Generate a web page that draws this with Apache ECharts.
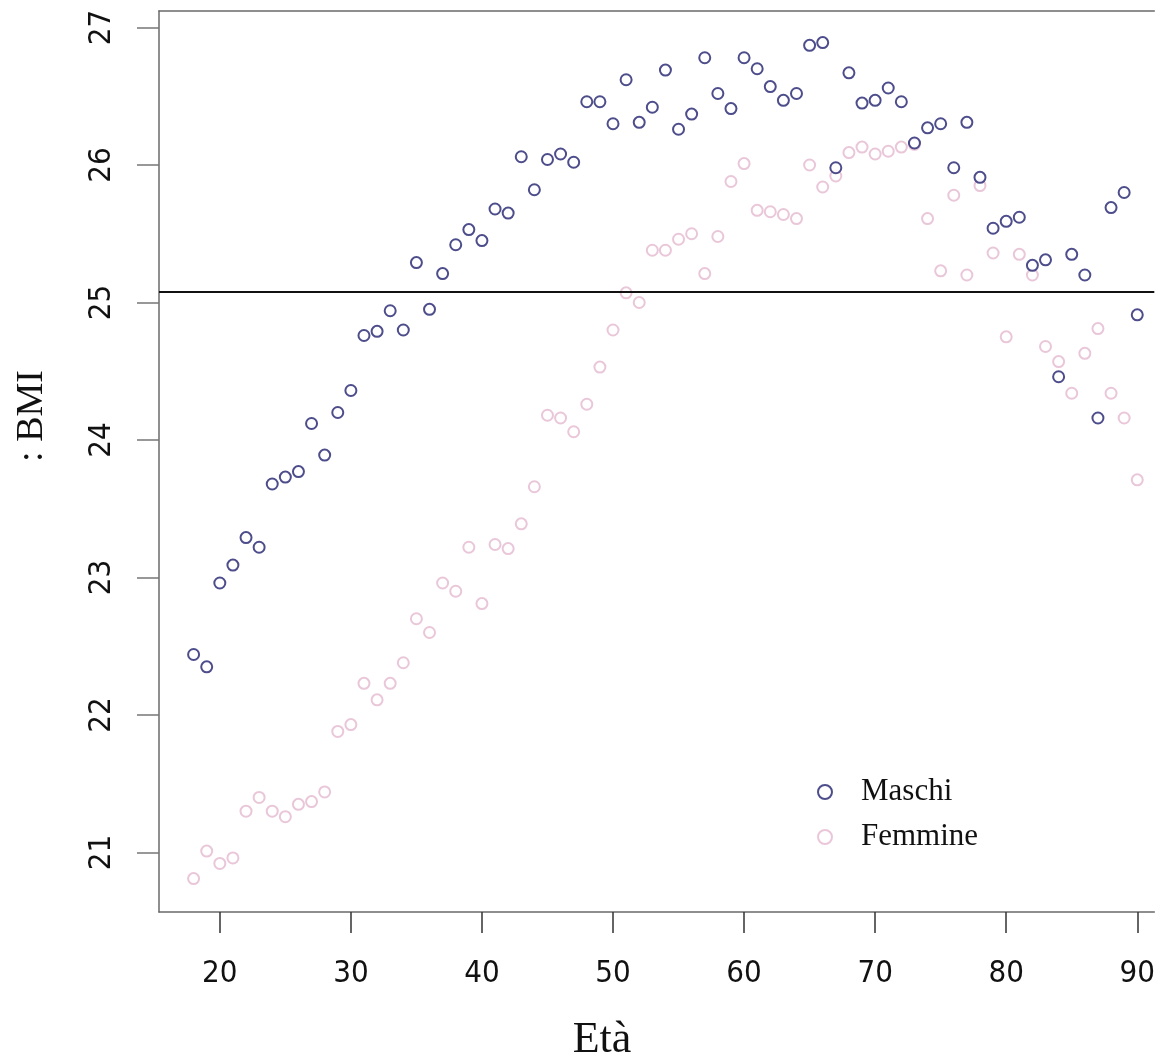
<!DOCTYPE html>
<html>
<head>
<meta charset="utf-8">
<script src="https://cdn.jsdelivr.net/npm/echarts@6/dist/echarts.min.js"></script>
<style>
  html, body { margin: 0; padding: 0; background: #fff; }
  #chart { width: 1158px; height: 1061px; }
</style>
</head>
<body>
<div id="chart"></div>
<script>
// eta (anni)
var eta = [18, 19, 20, 21, 22, 23, 24, 25, 26, 27,
  28, 29, 30, 31, 32, 33, 34, 35, 36, 37,
  38, 39, 40, 41, 42, 43, 44, 45, 46, 47,
  48, 49, 50, 51, 52, 53, 54, 55, 56, 57,
  58, 59, 60, 61, 62, 63, 64, 65, 66, 67,
  68, 69, 70, 71, 72, 73, 74, 75, 76, 77,
  78, 79, 80, 81, 82, 83, 84, 85, 86, 87,
  88, 89, 90]

// BMI medio per eta
var maschi = [22.44, 22.35, 22.96, 23.09, 23.29, 23.22, 23.68, 23.73, 23.77, 24.12,
  23.89, 24.20, 24.36, 24.76, 24.79, 24.94, 24.80, 25.29, 24.95, 25.21,
  25.42, 25.53, 25.45, 25.68, 25.65, 26.06, 25.82, 26.04, 26.08, 26.02,
  26.46, 26.46, 26.30, 26.62, 26.31, 26.42, 26.69, 26.26, 26.37, 26.78,
  26.52, 26.41, 26.78, 26.70, 26.57, 26.47, 26.52, 26.87, 26.89, 25.98,
  26.67, 26.45, 26.47, 26.56, 26.46, 26.16, 26.27, 26.30, 25.98, 26.31,
  25.91, 25.54, 25.59, 25.62, 25.27, 25.31, 24.46, 25.35, 25.20, 24.16,
  25.69, 25.80, 24.91]

var femmine = [20.81, 21.01, 20.92, 20.96, 21.30, 21.40, 21.30, 21.26, 21.35, 21.37,
  21.44, 21.88, 21.93, 22.23, 22.11, 22.23, 22.38, 22.70, 22.60, 22.96,
  22.90, 23.22, 22.81, 23.24, 23.21, 23.39, 23.66, 24.18, 24.16, 24.06,
  24.26, 24.53, 24.80, 25.07, 25.00, 25.38, 25.38, 25.46, 25.50, 25.21,
  25.48, 25.88, 26.01, 25.67, 25.66, 25.64, 25.61, 26.00, 25.84, 25.92,
  26.09, 26.13, 26.08, 26.10, 26.13, 26.15, 25.61, 25.23, 25.78, 25.20,
  25.85, 25.36, 24.75, 25.35, 25.20, 24.68, 24.57, 24.34, 24.63, 24.81,
  24.34, 24.16, 23.71]

var tickX = [20, 30, 40, 50, 60, 70, 80, 90]
var tickY = [21, 22, 23, 24, 25, 26, 27]
var soglia = 25.08

var coloreMaschi = '#20206e'
var coloreFemmine = '#e4b9cf'
var coloreBordo = '#6a6a6a'

var chartDom = document.getElementById('chart')
var myChart = echarts.init(chartDom)

var tickFont = "'Liberation Sans Narrow', 'DejaVu Sans Condensed', 'Liberation Sans', sans-serif"
var serifFont = "'Liberation Serif', 'DejaVu Serif', serif"

// il riquadro continua oltre il bordo destro dell'immagine: max tagliato a 91.3
var option = {
  animation: false,
  backgroundColor: '#ffffff',
  grid: {
    left: 159,
    top: 11,
    right: 0,
    bottom: 149
  },
  xAxis: [
    {
      type: 'value',
      min: 15.36,
      max: 91.3,
      axisLine: { show: true, lineStyle: { color: coloreBordo, width: 1.5 } },
      splitLine: { show: false },
      axisTick: {
        show: true,
        customValues: tickX,
        length: 21,
        lineStyle: { color: '#333', width: 1.5 }
      },
      axisLabel: {
        customValues: tickX,
        margin: 46,
        fontFamily: tickFont,
        fontSize: 31,
        color: '#111'
      }
    },
    {
      type: 'value',
      position: 'top',
      min: 15.36,
      max: 91.3,
      axisLine: { show: true, lineStyle: { color: coloreBordo, width: 1.5 } },
      splitLine: { show: false },
      axisTick: { show: false },
      axisLabel: { show: false }
    }
  ],
  yAxis: {
    type: 'value',
    min: 20.567,
    max: 27.12,
    axisLine: { show: true, lineStyle: { color: coloreBordo, width: 1.5 } },
    splitLine: { show: false },
    axisTick: {
      show: true,
      customValues: tickY,
      length: 22,
      lineStyle: { color: '#777', width: 1.5 }
    },
    axisLabel: {
      customValues: tickY,
      rotate: 90,
      margin: 42,
      fontFamily: tickFont,
      fontSize: 31,
      color: '#111'
    }
  },
  legend: {
    orient: 'vertical',
    left: 812,
    top: 770,
    itemWidth: 14,
    itemHeight: 14,
    itemGap: 11,
    icon: 'emptyCircle',
    textStyle: {
      fontFamily: serifFont,
      fontSize: 31,
      lineHeight: 34,
      color: '#111',
      padding: [0, 0, 0, 24]
    },
    data: ['Maschi', 'Femmine']
  },
  graphic: [
    {
      type: 'text',
      x: 32,
      y: 416,
      rotation: Math.PI / 2,
      style: {
        text: ': BMI',
        fontFamily: serifFont,
        fontSize: 38,
        fill: '#111',
        align: 'center',
        verticalAlign: 'middle'
      }
    },
    {
      type: 'text',
      x: 602,
      y: 1040,
      style: {
        text: 'Età',
        fontFamily: serifFont,
        fontSize: 44,
        fill: '#111',
        align: 'center',
        verticalAlign: 'middle'
      }
    }
  ],
  series: [
    {
      name: 'Femmine',
      type: 'scatter',
      symbol: 'emptyCircle',
      symbolSize: 11,
      itemStyle: { color: coloreFemmine, borderColor: coloreFemmine, borderWidth: 1.5 },
      data: eta.map(function (a, i) { return [a, femmine[i]] })
    },
    {
      name: 'Maschi',
      type: 'scatter',
      symbol: 'emptyCircle',
      symbolSize: 11,
      itemStyle: { color: coloreMaschi, borderColor: coloreMaschi, borderWidth: 1.5 },
      data: eta.map(function (a, i) { return [a, maschi[i]] }),
      markLine: {
        silent: true,
        symbol: 'none',
        label: { show: false },
        lineStyle: { color: '#111', width: 2, type: 'solid' },
        data: [{ yAxis: soglia }]
      }
    }
  ]
}

option && myChart.setOption(option)
</script>
</body>
</html>
